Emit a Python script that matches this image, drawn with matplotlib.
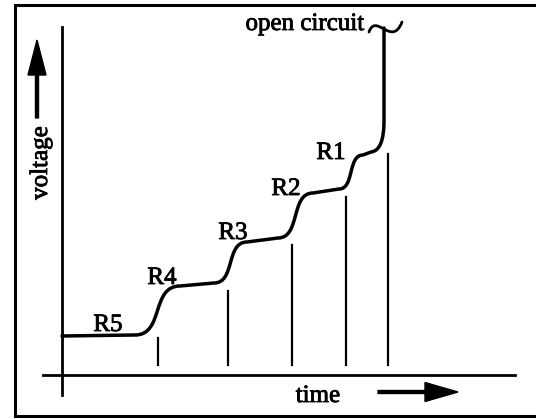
import matplotlib
matplotlib.use('Agg')
import matplotlib.pyplot as plt
import matplotlib.patheffects as pe
from matplotlib.path import Path
from matplotlib.patches import PathPatch

plt.rcParams['font.family'] = ['Liberation Serif', 'DejaVu Serif']

# voltage plateaus R5 .. R1: start/end time and start/end voltage
plateau_labels = ['R5', 'R4', 'R3', 'R2', 'R1']
plateau_t0 = [0, 118, 185, 251, 301]
plateau_t1 = [73, 152, 216, 277, 309]
plateau_v0 = [39, 89, 133, 182, 220]
plateau_v1 = [40, 92, 137, 186, 223]

# final rise to open circuit
oc_t = 322
oc_v = 347

# plateau label anchors (baseline)
label_t = [46, 100, 171, 224, 269]
label_v = [44, 91, 136, 180, 216]

# vertical marker lines
marker_t = [96, 166, 230, 284, 326]
marker_top = [37, 84, 130, 178, 221]
marker_bottom = 10

LW_CURVE = 2.5
LW_AXIS = 2.0
FS = 18
heavy = [pe.withStroke(linewidth=0.6, foreground='black')]

fig = plt.figure(figsize=(5.36, 4.19), dpi=100)
ax = fig.add_axes([0, 0, 1, 1])
ax.set_xlim(-62, 474)
ax.set_ylim(-44, 375)
ax.axis('off')

# build the staircase curve: flat plateaus joined by S-shaped steps
verts = [(plateau_t0[0], plateau_v0[0]), (plateau_t1[0], plateau_v1[0])]
codes = [Path.MOVETO, Path.LINETO]
for i in range(len(plateau_t0) - 1):
    ta, va = plateau_t1[i], plateau_v1[i]
    tb, vb = plateau_t0[i + 1], plateau_v0[i + 1]
    c = (ta + tb) / 2
    k = 0.3 * (tb - ta) / 2
    verts += [(c + k, va), (c - k, vb), (tb, vb), (plateau_t1[i + 1], plateau_v1[i + 1])]
    codes += [Path.CURVE4, Path.CURVE4, Path.CURVE4, Path.LINETO]

# bend up into the open circuit riser
t_end, v_end = plateau_t1[-1], plateau_v1[-1]
verts += [(t_end + 9, v_end + 1), (oc_t, v_end + 12), (oc_t, v_end + 32), (oc_t, oc_v)]
codes += [Path.CURVE4, Path.CURVE4, Path.CURVE4, Path.LINETO]

ax.add_patch(PathPatch(Path(verts, codes), fill=False, lw=LW_CURVE, ec='black',
                       capstyle='round', joinstyle='round'))

# break mark at the top of the riser
wave = Path([(oc_t - 15, oc_v - 4), (oc_t - 8, oc_v + 16), (oc_t + 8, oc_v - 20), (oc_t + 18, oc_v + 6)],
            [Path.MOVETO, Path.CURVE4, Path.CURVE4, Path.CURVE4])
ax.add_patch(PathPatch(wave, fill=False, lw=2.0, ec='black', capstyle='round'))

# vertical markers under each step
for t, top in zip(marker_t, marker_top):
    ax.plot([t, t], [marker_bottom, top], color='black', lw=1.6)

# axes
ax.plot([0, 0], [-20, 348], color='black', lw=LW_AXIS)
ax.plot([-19, 453], [0, 0], color='black', lw=LW_AXIS)

# frame (top, left, bottom)
ax.plot([474, -47, -47, 474], [370, 370, -41, -41], color='black', lw=2.2,
        solid_joinstyle='miter')

# labels
for lab, t, v in zip(plateau_labels, label_t, label_v):
    ax.text(t, v, lab, fontsize=FS, ha='center', va='baseline', path_effects=heavy)
ax.text(243, 345, 'open circuit', fontsize=FS, ha='center', va='baseline', path_effects=heavy)
ax.text(256, -27, 'time', fontsize=FS, ha='center', va='baseline', path_effects=heavy)
ax.text(-21, 212, 'voltage', fontsize=FS, rotation=90, ha='center', va='center',
        path_effects=heavy)

# direction arrows
ax.arrow(-25, 257, 0, 78, width=3, head_width=18, head_length=35,
         length_includes_head=True, fc='black', ec='black')
ax.arrow(316, -17, 80, 0, width=3, head_width=19, head_length=33,
         length_includes_head=True, fc='black', ec='black')

fig.savefig('out.png', dpi=100)
